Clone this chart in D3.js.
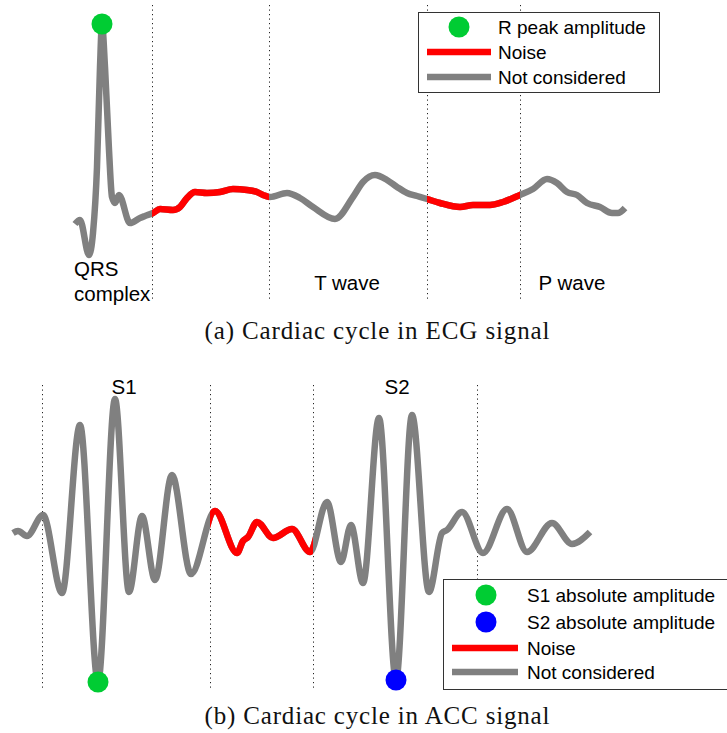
<!DOCTYPE html>
<html><head><meta charset="utf-8">
<script src="https://cdn.jsdelivr.net/npm/d3@7"></script>
<style>body{margin:0;background:#fff} svg{display:block}</style>
</head><body>
<script>
// ---------- ECG data (time in ms, amplitude in µV) ----------
const ecgTime = [2,7,16,20,24,27,29,32,36,39,42,46,57,67,72,80,87,100,107,114,122,134,147,160,174,184,190,197,214,227,240,262,280,290,302,314,324,334,344,354,367,387,400,417,430,447,460,474,484,494,504,514,527,539,545,552];
const ecgAmp  = [-90,-50,-400,-180,480,1480,1910,1480,650,180,120,200,-80,-30,-10,20,60,50,80,170,230,220,230,260,250,230,200,180,220,170,80,-40,180,330,400,350,280,220,190,160,120,80,100,100,130,200,260,360,320,230,200,120,80,20,20,70];
const ecgBoundaries = [79, 196, 354, 447];
const ecgNoise = [[79, 196], [354, 447]];
const ecgRPeak = [29, 1910];
const ecgLabels = ["QRS", "complex", "T wave", "P wave"];
const ecgLabelTimes = [1, 1, 274, 499];
const ecgLegend = ["R peak amplitude", "Noise", "Not considered"];

// ---------- ACC data (time in ms, amplitude in mg) ----------
const accTime = [1,6,15,31,50,68,86,103,117,130,143,160,179,203,225,231,236,245,261,280,298,315,329,339,351,367,384,400,417,430,435,450,471,495,515,540,560,578];
const accAmp  = [2,4,-1,20,-58,110,-147,136,-57,19,-45,60,-39,24,-18,-6,-2,13,-3,6,-17,33,-27,10,-48,117,-145,120,-57,2,5,23,-18,26,-17,12,-9,3];
const accBoundaries = [30, 198, 301, 465];
const accNoise = [[198, 301]];
const accS1 = [86, -147];
const accS2 = [384, -145];
const accLabels = ["S1", "S2"];
const accLabelTimes = [112, 385];
const accLegend = ["S1 absolute amplitude", "S2 absolute amplitude", "Noise", "Not considered"];

const captions = ["(a) Cardiac cycle in ECG signal", "(b) Cardiac cycle in ACC signal"];

// ---------- styles ----------
const GRAY = "#808080", RED = "#ff0000", GREEN = "#00cc33", BLUE = "#0000ff";
const LW = 6.5;
const SANS = "'Liberation Sans', Arial, Helvetica, sans-serif";
const SERIF = "'Liberation Serif', 'Times New Roman', serif";

const svg = d3.select("body").append("svg").attr("width", 727).attr("height", 733);
const defs = svg.append("defs");

function drawPanel(o) {
  const g = svg.append("g");
  const x = d3.scaleLinear().domain(o.xDomain).range(o.xRange);
  const y = d3.scaleLinear().domain(o.yDomain).range(o.yRange);
  g.selectAll("line.sep").data(o.bounds).join("line")
    .attr("x1", d => Math.round(x(d)) + 0.5).attr("x2", d => Math.round(x(d)) + 0.5)
    .attr("y1", o.sepY[0]).attr("y2", o.sepY[1])
    .attr("stroke", "#222").attr("stroke-width", 1).attr("stroke-dasharray", "1.2,3.3");
  const pts = o.time.map((t, i) => [t, o.amp[i]]);
  const line = d3.line().x(d => x(d[0])).y(d => y(d[1])).curve(d3.curveMonotoneX);
  g.append("path").attr("d", line(pts)).attr("fill", "none")
    .attr("stroke", GRAY).attr("stroke-width", LW).attr("stroke-linejoin", "round");
  o.noise.forEach((seg, i) => {
    const id = o.id + "clip" + i;
    defs.append("clipPath").attr("id", id).append("rect")
      .attr("x", x(seg[0])).attr("width", x(seg[1]) - x(seg[0]))
      .attr("y", 0).attr("height", 733);
    g.append("path").attr("d", line(pts)).attr("fill", "none")
      .attr("clip-path", `url(#${id})`)
      .attr("stroke", RED).attr("stroke-width", LW).attr("stroke-linejoin", "round");
  });
  o.dots.forEach(d => {
    g.append("circle").attr("cx", x(d.p[0])).attr("cy", y(d.p[1])).attr("r", 10.5).attr("fill", d.c);
  });
  return {g, x, y};
}

// ---------- Panel (a) ----------
const A = drawPanel({
  id: "a", time: ecgTime, amp: ecgAmp, bounds: ecgBoundaries, noise: ecgNoise,
  xDomain: [0, 552], xRange: [73, 625], yDomain: [0, 1900], yRange: [215, 25],
  sepY: [5, 300], dots: [{p: ecgRPeak, c: GREEN}]
});
A.g.append("text").attr("x", A.x(ecgLabelTimes[0])).attr("y", 276).text(ecgLabels[0])
  .attr("font-family", SANS).attr("font-size", 20.5);
A.g.append("text").attr("x", A.x(ecgLabelTimes[1])).attr("y", 301).text(ecgLabels[1])
  .attr("font-family", SANS).attr("font-size", 20.5);
[2, 3].forEach(i => {
  A.g.append("text").attr("x", A.x(ecgLabelTimes[i])).attr("y", 290).text(ecgLabels[i])
    .attr("text-anchor", "middle").attr("font-family", SANS).attr("font-size", 20.5);
});

// ---------- Panel (b) ----------
const B = drawPanel({
  id: "b", time: accTime, amp: accAmp, bounds: accBoundaries, noise: accNoise,
  xDomain: [0, 578], xRange: [12, 590], yDomain: [0, 150], yRange: [535, 385],
  sepY: [385, 690], dots: [{p: accS1, c: GREEN}, {p: accS2, c: BLUE}]
});
accLabels.forEach((l, i) => {
  B.g.append("text").attr("x", B.x(accLabelTimes[i])).attr("y", 394).text(l)
    .attr("text-anchor", "middle").attr("font-family", SANS).attr("font-size", 20.5);
});

// ---------- Legends ----------
function legend(box, symX, lineX, textX, rowsY, items, kinds) {
  const g = svg.append("g");
  g.append("rect").attr("x", box[0] + 0.5).attr("y", box[1] + 0.5).attr("width", box[2]).attr("height", box[3])
    .attr("fill", "#fff").attr("stroke", "#333").attr("stroke-width", 1);
  items.forEach((t, i) => {
    const k = kinds[i], cy = rowsY[i];
    if (k.type === "dot") {
      g.append("circle").attr("cx", symX).attr("cy", cy).attr("r", 10.5).attr("fill", k.c);
    } else {
      g.append("line").attr("x1", lineX[0]).attr("x2", lineX[1]).attr("y1", cy).attr("y2", cy)
        .attr("stroke", k.c).attr("stroke-width", LW);
    }
    g.append("text").attr("x", textX).attr("y", cy + 7).text(t)
      .attr("font-family", SANS).attr("font-size", 19);
  });
}
legend([418, 12, 241, 80], 459, [427, 491], 498, [27, 52, 77], ecgLegend,
  [{type: "dot", c: GREEN}, {type: "line", c: RED}, {type: "line", c: GRAY}]);
legend([443, 579, 300, 110], 486, [452, 518], 527, [595, 622, 648, 672], accLegend,
  [{type: "dot", c: GREEN}, {type: "dot", c: BLUE}, {type: "line", c: RED}, {type: "line", c: GRAY}]);

// ---------- Captions ----------
[[captions[0], 339], [captions[1], 724]].forEach(([t, yy]) => {
  svg.append("text").attr("x", 377).attr("y", yy).text(t)
    .attr("text-anchor", "middle").attr("font-family", SERIF).attr("font-size", 25)
    .attr("textLength", 345).attr("lengthAdjust", "spacing").attr("fill", "#111");
});
</script>
</body></html>
